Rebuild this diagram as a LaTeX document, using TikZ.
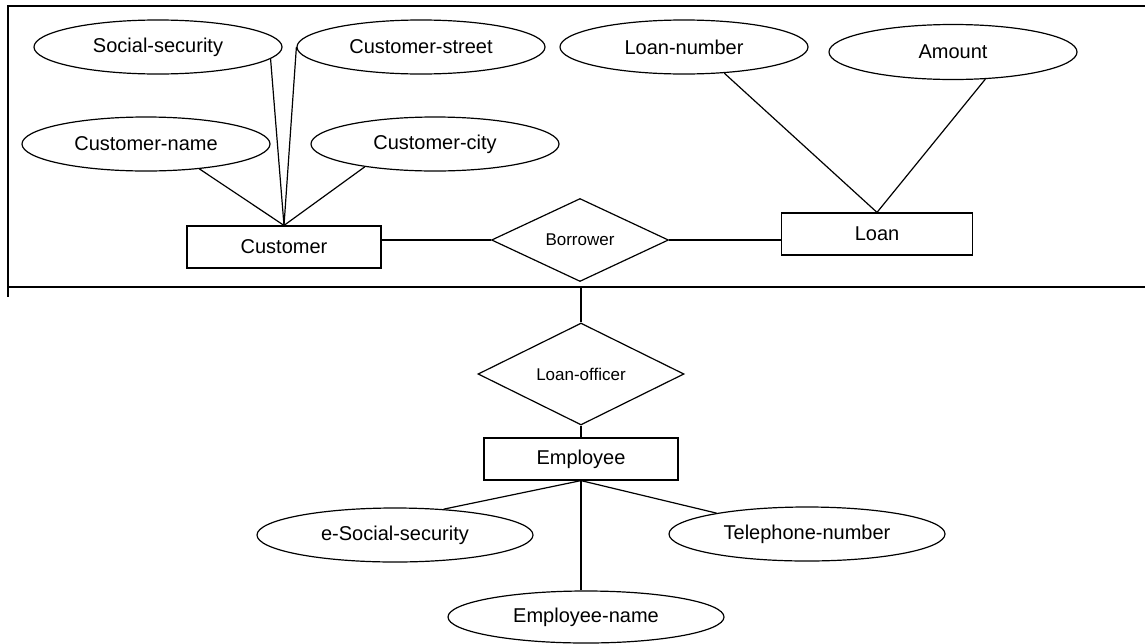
\documentclass[tikz,border=0pt]{standalone}
\usepackage{fontspec}
\setmainfont{Liberation Sans}
\usetikzlibrary{shapes.geometric}
\tikzset{
    attr/.style = {
        draw, ellipse,
        inner sep=0pt,
        minimum width=124pt,
        minimum height=27pt,
        },
    wide attr/.style = {
        attr,
        minimum width=138pt,
        },
    entity/.style = {
        draw, rectangle,
        inner sep=0pt,
        minimum width=97pt,
        minimum height=21pt,
        },
    relation/.style = {
        draw, diamond,
        inner sep=0pt,
        font=\fontsize{8.5}{10}\selectfont,
        },
    frame/.style = {
        line width=0.9pt,
        },
}

\begin{document}
\begin{tikzpicture}[x=0.5pt, y=-0.5pt, line width=0.6pt, font=\fontsize{10}{12}\selectfont]
            \useasboundingbox (0,0) rectangle (1145,643);

            % frame round customer, borrower and loan
            \coordinate (tl) at (8,6);
            \coordinate (bl) at (8,287);
            \draw[frame] (1145,6) -- (tl) -- (8,297);
            \draw[frame] (bl) -- (1145,287);

            \node[attr] (ss) at (158,47) {Social-security};
            \node[attr] (cstreet) at (421,47) {Customer-street};
            \node[attr] (cname) at (146,144) {Customer-name};
            \node[attr] (ccity) at (435,144) {Customer-city};
            \node[entity] (cust) at (284,247) {Customer};
            \node[relation, minimum width=88.5pt, minimum height=41.5pt] (borrow) at (580,240) {Borrower};
            \node[entity, minimum width=95.5pt] (loan) at (877,234) {Loan};
            \node[attr] (lnum) at (684,47) {Loan-number};
            \node[attr, minimum height=27.5pt] (amt) at (953,52) {Amount};
            \node[relation, minimum width=103pt, minimum height=41pt] (loff) at (581,374) {Loan-officer};
            \node[entity] (emp) at (581,459) {Employee};
            \node[wide attr] (ess) at (395,535) {e-Social-security};
            \node[wide attr] (tel) at (807,534) {Telephone-number};
            \node[wide attr, minimum height=26pt] (ename) at (586,617) {Employee-name};

            \draw (ss.-6) -- (cust.north);
            \draw (cstreet.west) -- (cust.north);
            \draw (cname.-25) -- (cust.north);
            \draw (ccity.-162) -- (cust.north);
            \draw (lnum.-33) -- (loan.north);
            \draw (amt.-40) -- (loan.north);
            \draw (borrow.west) -- (borrow.west -| cust.east);
            \draw (borrow.east) -- (borrow.east -| loan.west);
            \draw (loff.north) -- (loff.north |- bl);
            \draw (loff.south) -- (emp.north);
            \draw (emp.south) -- (ess.28);
            \draw (emp.south) -- (tel.167);
            \draw (emp.south) -- (emp.south |- ename.north);
        \end{tikzpicture}
\end{document}
